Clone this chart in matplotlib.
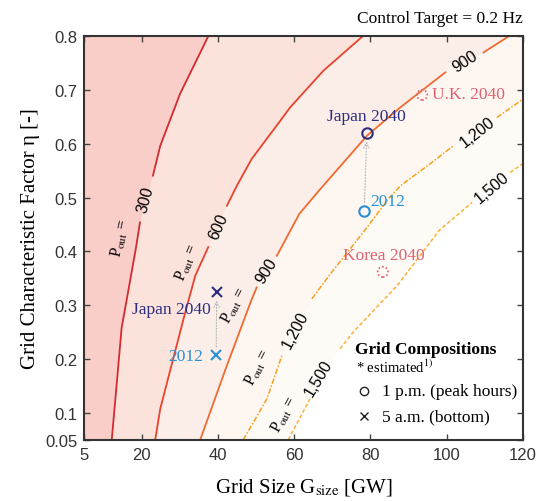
import numpy as np
import matplotlib
matplotlib.use('Agg')
import matplotlib.pyplot as plt

plt.rcParams['font.family'] = ['Liberation Serif', 'DejaVu Serif']
plt.rcParams['mathtext.fontset'] = 'stix'

# contour lines of P_out, split where the labels sit
# each entry: list of segments (x [GW], eta [-]), bottom to top
p300 = [([12.2, 14.8, 15.2, 18.5, 19.6], [0.05, 0.259, 0.274, 0.405, 0.454]),
        ([23.0, 24.9, 30.1, 37.5], [0.541, 0.596, 0.693, 0.80])]
p600 = [([23.6, 24.9, 31.0, 34.1, 37.5], [0.05, 0.107, 0.274, 0.355, 0.408]),
        ([42.4, 45.0, 48.9, 56.4, 59.0, 67.7, 78.0], [0.485, 0.522, 0.572, 0.643, 0.668, 0.736, 0.80])]
p900 = [([35.4, 42.4, 48.9, 50.2], [0.05, 0.188, 0.311, 0.333]),
        ([55.5, 61.4, 66.9, 79.1, 87.9, 95.7, 99.7], [0.392, 0.470, 0.516, 0.615, 0.668, 0.711, 0.733]),
        ([109.7, 116.3], [0.770, 0.80])]
p1200 = [([46.7, 52.9, 56.8], [0.05, 0.126, 0.206]),
         ([64.7, 69.5, 78.2, 84.8, 87.9, 95.7, 101.9], [0.312, 0.358, 0.436, 0.498, 0.522, 0.563, 0.597]),
         ([113.2, 120.0], [0.649, 0.683])]
p1500 = [([58.5, 64.2], [0.05, 0.126]),
         ([72.1, 75.5, 87.0, 98.2, 106.7], [0.219, 0.250, 0.336, 0.440, 0.491]),
         ([116.7, 120.0], [0.547, 0.563])]

# grid compositions
circ_2012 = (78.4, 0.476)
circ_jp2040 = (79.1, 0.620)
circ_uk2040 = (93.6, 0.691)
circ_kr2040 = (83.3, 0.362)
cross_2012 = (39.6, 0.207)
cross_jp2040 = (39.7, 0.324)

xticks = [5, 20, 40, 60, 80, 100, 120]
yticks = [0.05, 0.1, 0.2, 0.3, 0.4, 0.5, 0.6, 0.7, 0.8]

fig = plt.figure(figsize=(5.44, 5.02), dpi=100)
ax = fig.add_axes([0.155, 0.1221, 0.806, 0.8036])
ax.set_xlim(5, 120)
ax.set_ylim(0.05, 0.8)

lines = [p1500, p1200, p900, p600, p300]
fills = ['#fefaf6', '#fdf6f1', '#fbeee8', '#fbe3db', '#f9cdc8']
colors = ['#fbb03b', '#f7a11a', '#f26a30', '#e8432e', '#d42a30']
styles = [(0, (2.5, 1.5)), (0, (3.5, 1.2, 1, 1.2)), '-', '-', '-']
widths = [1.1, 1.1, 1.3, 1.3, 1.3]

# fill everything left of each line, lightest first
for segs, fc in zip(lines, fills):
    xs = np.concatenate([s[0] for s in segs])
    ys = np.concatenate([s[1] for s in segs])
    px = [5] + list(xs) + [120, 120, 5]
    py = [0.05] + list(ys) + [ys[-1], 0.8, 0.8]
    ax.fill(px, py, color=fc, lw=0, zorder=0)

for segs, c, ls, lw in zip(lines, colors, styles, widths):
    for sx, sy in segs:
        ax.plot(sx, sy, color=c, ls=ls, lw=lw, zorder=2, solid_joinstyle='round')

# contour labels
num_kw = dict(family=['Liberation Sans', 'DejaVu Sans'], fontsize=11.5, ha='center', va='center', zorder=3)
pout_kw = dict(fontsize=11.5, ha='center', va='center', zorder=3)
ax.text(21.0, 0.497, '300', rotation=75, **num_kw)
ax.text(14.6, 0.426, 'P$_{\\mathrm{out}}$ =', rotation=78, **pout_kw)
ax.text(40.2, 0.448, '600', rotation=66, **num_kw)
ax.text(31.9, 0.380, 'P$_{\\mathrm{out}}$ =', rotation=68, **pout_kw)
ax.text(52.9, 0.364, '900', rotation=58, **num_kw)
ax.text(44.4, 0.300, 'P$_{\\mathrm{out}}$ =', rotation=62, **pout_kw)
ax.text(60.3, 0.256, '1,200', rotation=62, **num_kw)
ax.text(50.7, 0.185, 'P$_{\\mathrm{out}}$ =', rotation=63, **pout_kw)
ax.text(66.4, 0.166, '1,500', rotation=59, **num_kw)
ax.text(57.4, 0.098, 'P$_{\\mathrm{out}}$ =', rotation=62, **pout_kw)
ax.text(104.9, 0.755, '900', rotation=33, **num_kw)
ax.text(108.0, 0.623, '1,200', rotation=38, **num_kw)
ax.text(111.9, 0.519, '1,500', rotation=40, **num_kw)

# markers
navy = '#2e2c7e'
blue = '#2a8fd4'
pink = '#e0606e'
arrow = dict(arrowstyle='->', color='#b5b5b5', lw=0.8, ls=':', shrinkA=6, shrinkB=6)
ax.annotate('', xy=circ_jp2040, xytext=circ_2012, arrowprops=arrow, zorder=3)
ax.annotate('', xy=cross_jp2040, xytext=cross_2012, arrowprops=arrow, zorder=3)

ax.plot(*circ_jp2040, 'o', mfc='none', mec=navy, ms=7.5, mew=1.5, zorder=4)
ax.plot(*circ_2012, 'o', mfc='none', mec=blue, ms=7.5, mew=1.5, zorder=4)
ax.plot(*cross_jp2040, 'x', color=navy, ms=7.5, mew=1.5, zorder=4)
ax.plot(*cross_2012, 'x', color=blue, ms=7.5, mew=1.5, zorder=4)
ax.scatter(*circ_uk2040, s=55, facecolors='none', edgecolors=pink, linewidths=1.2,
           linestyles=(0, (1, 1.3)), zorder=4)
ax.scatter(*circ_kr2040, s=55, facecolors='none', edgecolors=pink, linewidths=1.2,
           linestyles=(0, (1, 1.3)), zorder=4)

ax.text(79.1, 0.652, 'Japan 2040', color=navy, fontsize=12.5, ha='center', va='center', zorder=4)
ax.text(80.0, 0.494, '2012', color=blue, fontsize=12.5, ha='left', va='center', zorder=4)
ax.text(96.2, 0.692, 'U.K. 2040', color=pink, fontsize=12.5, ha='left', va='center', zorder=4)
ax.text(83.5, 0.394, 'Korea 2040', color=pink, fontsize=12.5, ha='center', va='center', zorder=4)
ax.text(38.2, 0.293, 'Japan 2040', color=navy, fontsize=12.5, ha='right', va='center', zorder=4)
ax.text(36.2, 0.206, '2012', color=blue, fontsize=12.5, ha='right', va='center', zorder=4)

# legend block
ax.text(0.617, 0.225, 'Grid Compositions', transform=ax.transAxes, fontsize=12.5,
        fontweight='bold', ha='left', va='center')
ax.text(0.620, 0.182, '* estimated$^{\\mathrm{1)}}$', transform=ax.transAxes, fontsize=10.5,
        ha='left', va='center')
ax.plot(0.639, 0.121, 'o', transform=ax.transAxes, mfc='none', mec='#222222', ms=6, mew=1)
ax.plot(0.639, 0.059, 'x', transform=ax.transAxes, color='#222222', ms=6, mew=1)
ax.text(0.678, 0.121, '1 p.m. (peak hours)', transform=ax.transAxes, fontsize=12.5,
        ha='left', va='center')
ax.text(0.678, 0.059, '5 a.m. (bottom)', transform=ax.transAxes, fontsize=12.5,
        ha='left', va='center')

ax.text(1.0, 1.025, 'Control Target = 0.2 Hz', transform=ax.transAxes, fontsize=12.5,
        ha='right', va='bottom')

ax.set_xticks(xticks)
ax.set_yticks(yticks)
ax.set_xticklabels([str(t) for t in xticks])
ax.set_yticklabels(['0.05', '0.1', '0.2', '0.3', '0.4', '0.5', '0.6', '0.7', '0.8'])
ax.tick_params(direction='in', top=True, right=True, length=4, width=1, color='#444444',
               labelsize=12, pad=5)
for lab in ax.get_xticklabels() + ax.get_yticklabels():
    lab.set_family(['Liberation Sans', 'DejaVu Sans'])
    lab.set_color('#333333')
for sp in ax.spines.values():
    sp.set_color('#333333')
    sp.set_linewidth(1.5)
    sp.set_zorder(5)

ax.set_xlabel('Grid Size G$_{\\mathrm{size}}$ [GW]', fontsize=15, labelpad=10)
ax.set_ylabel('Grid Characteristic Factor \u03b7 [-]', fontsize=15, labelpad=4)

fig.savefig('out.png', dpi=100)
